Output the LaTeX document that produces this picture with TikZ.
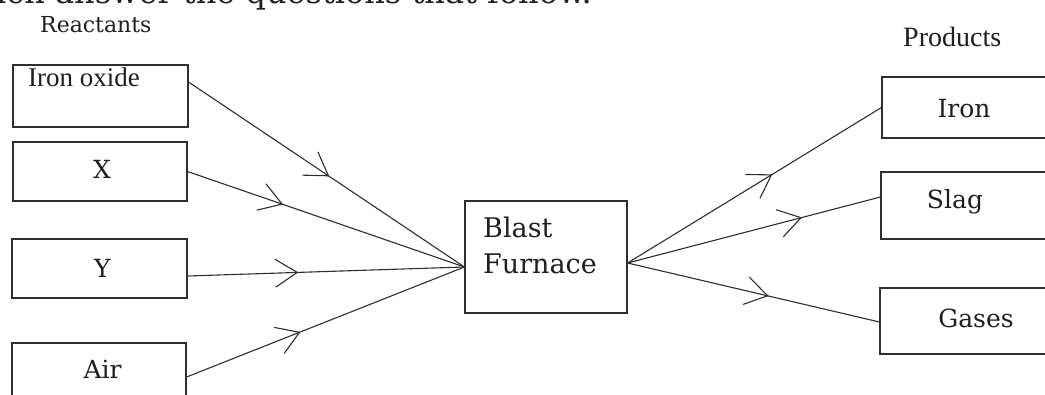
\documentclass[tikz,border=0pt]{standalone}
\usepackage{fontspec}
\setmainfont{DejaVu Serif}
\newfontfamily\timesfont{Liberation Serif}
\usetikzlibrary{arrows.meta,decorations.markings}

\tikzset{
  ink/.style={draw=black!82, line width=1.1pt},
  box/.style={ink, rectangle, inner sep=0pt},
  txt/.style={inner sep=0pt, text=black!88},
  lbl/.style={txt, font=\fontsize{25}{30}\selectfont},
  flow/.style={ink, postaction={decorate},
    decoration={markings, mark=at position #1 with
      {\arrow{Straight Barb[length=22pt,width=28pt,line width=1.1pt]}}}},
}

\begin{document}
\begin{tikzpicture}[x=1pt, y=-1pt]
  \useasboundingbox (0,0) rectangle (1045,394);
  \clip (0,0) rectangle (1045,394);
  \fill[white] (0,0) rectangle (1045,394);

  % line of the question above, cut off by the top edge
  \node[txt, font=\fontsize{32}{36}\selectfont, anchor=base east] (question)
    at (592,3) {each answer the questions that follow.};

  % headings
  \node[txt, font=\fontsize{22}{26}\selectfont, anchor=base west] (reactants) at (40,32) {Reactants};
  \node[txt, font=\timesfont\fontsize{28}{32}\selectfont, anchor=base west] (products) at (903,46) {Products};

  % reactant boxes
  \node[box, minimum width=175pt, minimum height=62pt] (ox)  at (100.5,96)  {};
  \node[box, minimum width=174pt, minimum height=59pt] (x)   at (100,171.5) {};
  \node[box, minimum width=175pt, minimum height=59pt] (y)   at (99.5,268.5) {};
  \node[box, minimum width=174pt, minimum height=61pt] (air) at (99,373.5)  {};

  \node[txt, font=\timesfont\fontsize{27}{32}\selectfont, anchor=base west] (t-ox) at (28,86) {Iron oxide};
  \node[lbl, anchor=base] (t-x)   at (102,178)   {X};
  \node[lbl, anchor=base] (t-y)   at (102.5,277) {Y};
  \node[lbl, anchor=base] (t-air) at (102.5,378) {Air};

  % furnace
  \node[box, minimum width=162pt, minimum height=112pt] (bf) at (546,257) {};
  \node[txt, font=\fontsize{27}{32}\selectfont, anchor=base west] (t-blast)   at (483,237) {Blast};
  \node[txt, font=\fontsize{27}{32}\selectfont, anchor=base west] (t-furnace) at (483,273) {Furnace};

  % product boxes (running past the right edge)
  \node[box, minimum width=168pt, minimum height=61pt] (iron)  at (966,107.5) {};
  \node[box, minimum width=169pt, minimum height=67pt] (slag)  at (965.5,205.5) {};
  \node[box, minimum width=170pt, minimum height=66pt] (gases) at (965,321) {};

  \node[lbl, anchor=base] (t-iron)  at (964,117) {Iron};
  \node[lbl, anchor=base] (t-slag)  at (955,208) {Slag};
  \node[lbl, anchor=base] (t-gases) at (976,327) {Gases};

  % reactants into the furnace
  \draw[flow=0.51]  ([yshift=14pt]ox.east)   -- ([yshift=-10pt]bf.west);
  \draw[flow=0.345] (x.east)                 -- ([yshift=-10pt]bf.west);
  \draw[flow=0.40]  ([yshift=-7.5pt]y.east)  -- ([yshift=-10pt]bf.west);
  \draw[flow=0.41]  ([yshift=-3.5pt]air.east) -- ([yshift=-10pt]bf.west);

  % products out of the furnace
  \draw[flow=0.57] ([yshift=-6pt]bf.east) -- (iron.west);
  \draw[flow=0.69] ([yshift=-6pt]bf.east) -- ([yshift=8.5pt]slag.west);
  \draw[flow=0.56] ([yshift=-6pt]bf.east) -- ([yshift=-1pt]gases.west);
\end{tikzpicture}
\end{document}
